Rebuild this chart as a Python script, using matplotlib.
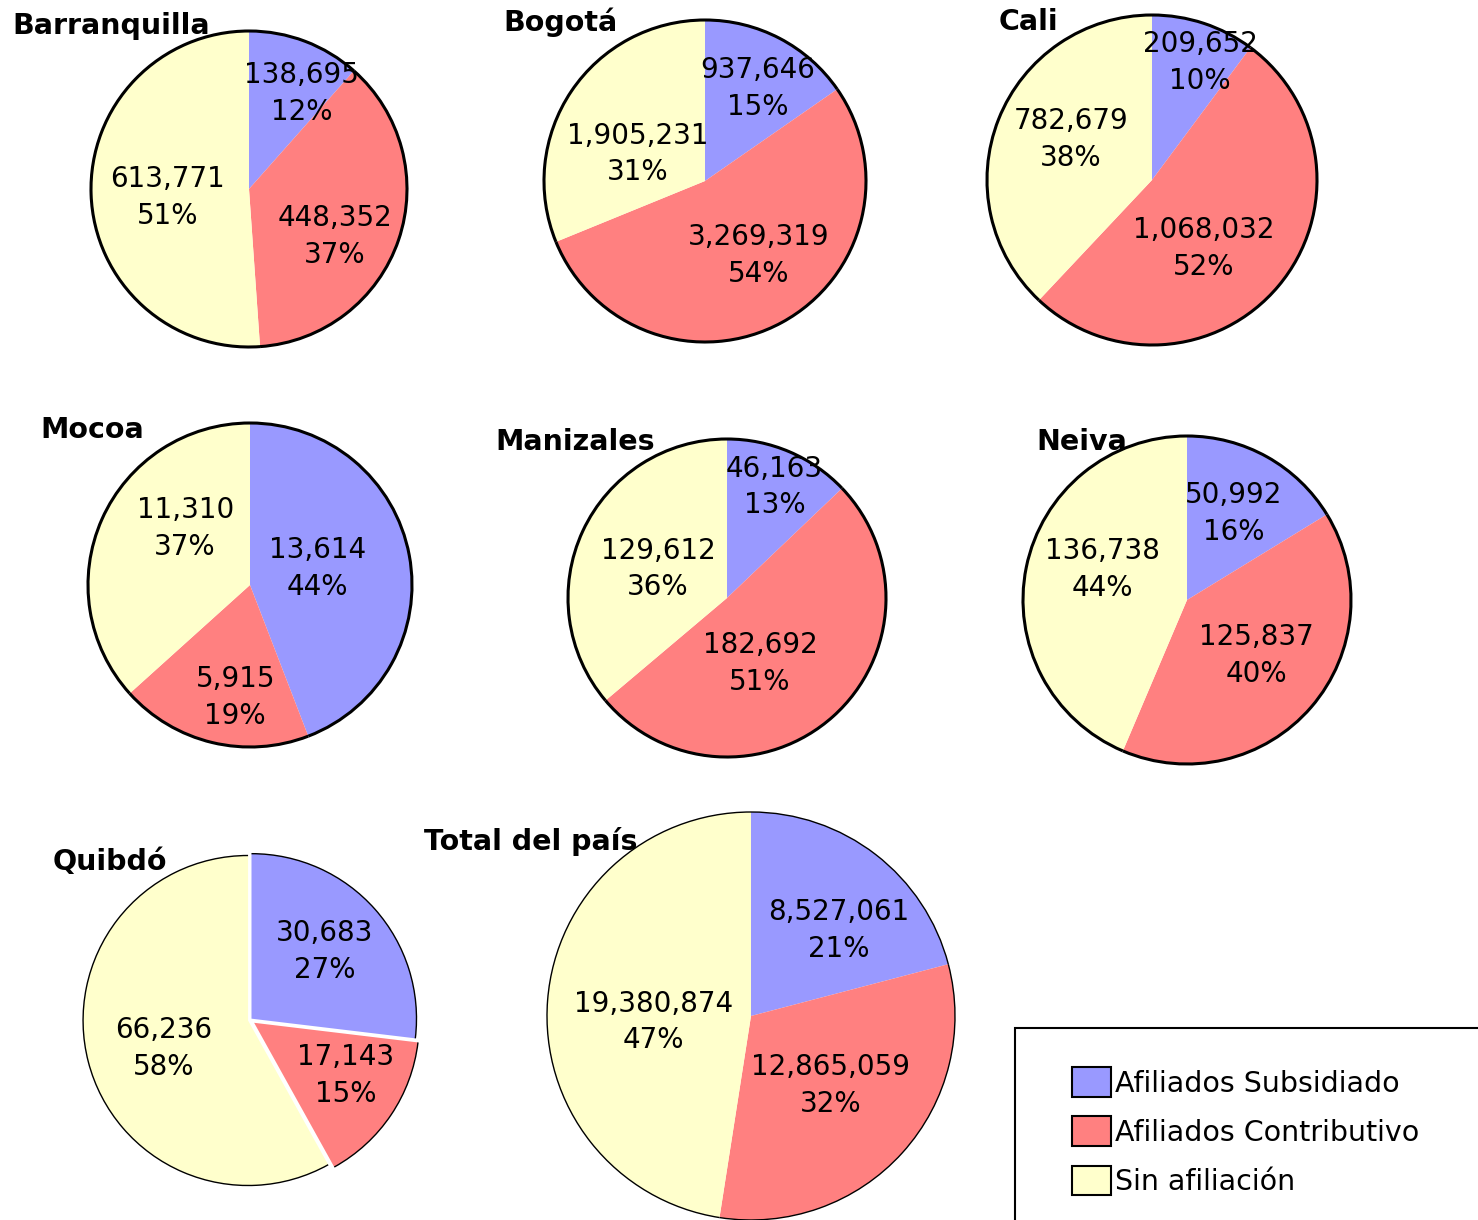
import matplotlib
matplotlib.use("Agg")
import matplotlib.pyplot as plt
from matplotlib.patches import Arc, Rectangle, Patch
import numpy as np

# ---------------- data ----------------
cities = ["Barranquilla", "Bogotá", "Cali", "Mocoa", "Manizales", "Neiva",
          "Quibdó", "Total del país"]
subsidiado = [138695, 937646, 209652, 13614, 46163, 50992, 30683, 8527061]
contributivo = [448352, 3269319, 1068032, 5915, 182692, 125837, 17143, 12865059]
sin_afiliacion = [613771, 1905231, 782679, 11310, 129612, 136738, 66236, 19380874]
pct_subsidiado = [12, 15, 10, 44, 13, 16, 27, 21]
pct_contributivo = [37, 54, 52, 19, 51, 40, 15, 32]
pct_sin = [51, 31, 38, 37, 36, 44, 58, 47]
series_names = ["Afiliados Subsidiado", "Afiliados Contributivo", "Sin afiliación"]

# ---------------- style / layout ----------------
colors = ["#9999FF", "#FF8080", "#FFFFCC"]
W, H = 1478, 1220
centers = [(249, 189), (705, 181), (1152, 180), (250, 585), (727, 598),
           (1187, 600), (250, 1020), (751, 1016)]
radii = [158, 161, 165, 162, 159, 164, 165, 204]
outline_w = [2.2] * 6 + [1.0, 1.0]
explode = [(0, 0, 0)] * 6 + [(2, 5, 2), (0, 0, 0)]
# label placement: fraction of radius, and clockwise angular nudge (degrees)
label_dist = [(0.69, 0.62, 0.52), (0.66, 0.57, 0.45), (0.77, 0.52, 0.55),
              (0.43, 0.70, 0.53), (0.76, 0.46, 0.47), (0.60, 0.54, 0.55),
              (0.60, 0.64, 0.54), (0.60, 0.52, 0.48)]
label_shift = [(8, 10, -4), (2, -7, -12), (4, 13, 5), (-3, -6, 17),
               (0, 15, -2), (-1, -2, 8), (-1, -4, -4), (8, -1, -8)]
title_pos = [(12, 26), (503, 22), (999, 22), (40, 430), (495, 442),
             (1036, 442), (53, 862), (424, 842)]

plt.rcParams['font.family'] = ['DejaVu Sans']
fig = plt.figure(figsize=(W / 100, H / 100), dpi=100)
ax = fig.add_axes([0, 0, 1, 1])

for i, city in enumerate(cities):
    vals = [subsidiado[i], contributivo[i], sin_afiliacion[i]]
    pcts = [pct_subsidiado[i], pct_contributivo[i], pct_sin[i]]
    cx, cy = centers[i]
    r = radii[i]
    wedges, _ = ax.pie(vals, colors=colors, startangle=90, counterclock=False,
                       center=(cx, H - cy), radius=r, explode=explode[i],
                       wedgeprops=dict(linewidth=0, edgecolor='none'))
    for j, w in enumerate(wedges):
        ax.add_patch(Arc(w.center, 2 * r, 2 * r, theta1=w.theta1, theta2=w.theta2,
                         lw=outline_w[i], color='black', zorder=3))
        mid = np.deg2rad((w.theta1 + w.theta2) / 2 - label_shift[i][j])
        d = label_dist[i][j] * r
        ax.text(w.center[0] + d * np.cos(mid), w.center[1] + d * np.sin(mid),
                f"{vals[j]:,}\n{pcts[j]}%", ha='center', va='center',
                fontsize=20, color='black', zorder=5, linespacing=1.4)
    tx, ty = title_pos[i]
    ax.text(tx, H - ty, city, ha='left', va='center', fontsize=20.5,
            fontweight='bold', color='black', zorder=6)

ax.set_xlim(0, W)
ax.set_ylim(0, H)
ax.set_aspect('equal')
ax.axis('off')

# legend
handles = [Patch(facecolor=c, edgecolor='black', linewidth=1.5) for c in colors]
ax.legend(handles, series_names, loc='upper left',
          bbox_to_anchor=(1058, H - 1053), bbox_transform=ax.transData,
          frameon=False, borderpad=0, handlelength=1.37, handleheight=1.22,
          handletextpad=0.12, labelspacing=0.66, prop=dict(size=20.5))
ax.add_patch(Rectangle((1015, H - 1028 - 400), 700, 400, fill=False,
                       lw=1.5, edgecolor='black', zorder=4))

fig.savefig("out.png", dpi=100)
